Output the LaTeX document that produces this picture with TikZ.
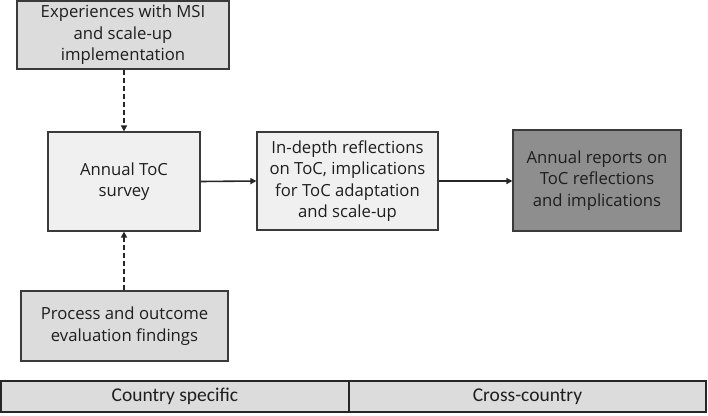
\documentclass[tikz,border=0pt]{standalone}
\usepackage{fontspec}
\setmainfont{Open Sans}
\newfontfamily\barfont{Carlito}
\usetikzlibrary{arrows.meta}
\definecolor{txt}{HTML}{1E1E1E}
\definecolor{lightbox}{HTML}{DCDCDC}
\definecolor{paleb}{HTML}{F0F0F0}
\definecolor{darkb}{HTML}{8E8E8E}
\definecolor{edge}{HTML}{3A3A3A}
\tikzset{
  box/.style={draw=edge, line width=1.2pt, text=txt, align=center, inner sep=0pt,
    font=\fontsize{16.7}{21.5}\selectfont},
  barcell/.style={draw=black!85, line width=2pt, fill=lightbox, text=txt, inner sep=0pt,
    font=\barfont\fontsize{19.5}{22}\selectfont},
  solidarrow/.style={draw=black!85, line width=1.6pt, -{Triangle[length=6pt,width=6pt]}},
  dasharrow/.style={draw=black!85, line width=2pt, dash pattern=on 5pt off 3pt, -{Triangle[length=6pt,width=6pt]}}
}
\begin{document}
\begin{tikzpicture}[x=1pt,y=-1pt]
\useasboundingbox (0,0) rectangle (708,415);
\node[box, fill=lightbox, minimum width=212pt, minimum height=68pt] (exp) at (123,35) {Experiences with MSI\\and scale-up\\implementation};
\node[box, fill=paleb, minimum width=152pt, minimum height=99pt] (survey) at (124,181.5) {Annual ToC\\survey};
\node[box, fill=paleb, minimum width=181pt, minimum height=98pt] (depth) at (347.5,181) {In-depth reflections\\on ToC, implications\\for ToC adaptation\\and scale-up};
\node[box, fill=darkb, minimum width=168pt, minimum height=101pt] (reports) at (597,180.5) {Annual reports on\\ToC reflections\\and implications};
\node[box, fill=lightbox, minimum width=207pt, minimum height=70pt] (proc) at (124.5,326) {Process and outcome\\evaluation findings};
\node[barcell, minimum width=348pt, minimum height=31pt] (cs) at (175,396.5) {Country specific};
\node[barcell, minimum width=357pt, minimum height=31pt] (cc) at (527.5,396.5) {Cross-country};
\draw[dasharrow] (exp.south -| survey.north) -- (survey.north);
\draw[dasharrow] (proc.north -| survey.south) -- (survey.south);
\draw[solidarrow] (survey.east) -- (depth.west);
\draw[solidarrow] (depth.east) -- (reports.west |- depth.east);
\end{tikzpicture}
\end{document}
